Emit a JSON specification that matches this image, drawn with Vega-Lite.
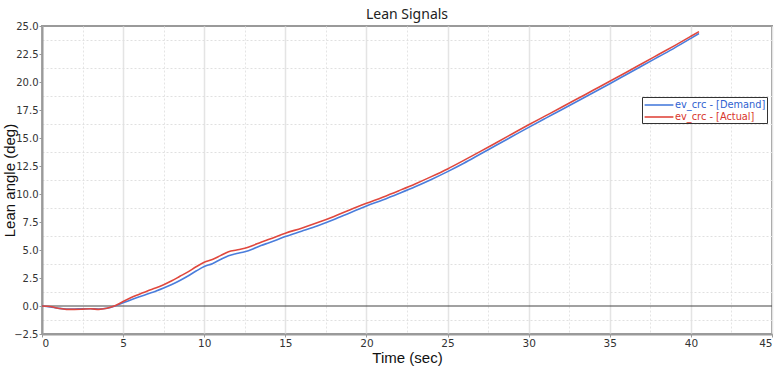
{
  "$schema": "https://vega.github.io/schema/vega-lite/v6.json",
  "autosize": "none",
  "width": 730,
  "height": 308,
  "padding": {"left": 42, "top": 26, "right": 8, "bottom": 33},
  "background": "white",
  "title": {"text": "Lean Signals", "font": "Noto Sans", "fontSize": 14, "fontWeight": "normal", "color": "#222", "offset": -1, "anchor": "middle"},
  "config": {
    "view": {"stroke": "#9a9a9a", "strokeWidth": 2},
    "axis": {"labelFont": "DejaVu Sans", "labelFontSize": 10, "labelColor": "#333", "labelOverlap": false, "titleFont": "Liberation Sans", "titleFontSize": 15, "titleFontWeight": "normal", "titleColor": "#111", "domainColor": "#9a9a9a", "domainWidth": 2, "tickColor": "#9a9a9a", "tickSize": 3, "gridColor": "#e4e4e4", "gridWidth": 1.5}
  },
  "resolve": {"axis": {"y": "independent"}},
  "datasets": {
    "sig": [
      {"t": 0, "v": 0, "s": "ev_crc - [Demand]"},
      {"t": 0.5, "v": -0.08, "s": "ev_crc - [Demand]"},
      {"t": 1, "v": -0.2, "s": "ev_crc - [Demand]"},
      {"t": 1.5, "v": -0.27, "s": "ev_crc - [Demand]"},
      {"t": 2, "v": -0.27, "s": "ev_crc - [Demand]"},
      {"t": 2.5, "v": -0.25, "s": "ev_crc - [Demand]"},
      {"t": 3, "v": -0.25, "s": "ev_crc - [Demand]"},
      {"t": 3.5, "v": -0.27, "s": "ev_crc - [Demand]"},
      {"t": 4, "v": -0.2, "s": "ev_crc - [Demand]"},
      {"t": 4.5, "v": 0.0, "s": "ev_crc - [Demand]"},
      {"t": 5, "v": 0.28, "s": "ev_crc - [Demand]"},
      {"t": 5.5, "v": 0.55, "s": "ev_crc - [Demand]"},
      {"t": 6, "v": 0.82, "s": "ev_crc - [Demand]"},
      {"t": 6.5, "v": 1.08, "s": "ev_crc - [Demand]"},
      {"t": 7, "v": 1.32, "s": "ev_crc - [Demand]"},
      {"t": 7.5, "v": 1.6, "s": "ev_crc - [Demand]"},
      {"t": 8, "v": 1.92, "s": "ev_crc - [Demand]"},
      {"t": 8.5, "v": 2.28, "s": "ev_crc - [Demand]"},
      {"t": 9, "v": 2.68, "s": "ev_crc - [Demand]"},
      {"t": 9.5, "v": 3.12, "s": "ev_crc - [Demand]"},
      {"t": 10, "v": 3.52, "s": "ev_crc - [Demand]"},
      {"t": 10.5, "v": 3.78, "s": "ev_crc - [Demand]"},
      {"t": 11, "v": 4.15, "s": "ev_crc - [Demand]"},
      {"t": 11.5, "v": 4.48, "s": "ev_crc - [Demand]"},
      {"t": 12, "v": 4.68, "s": "ev_crc - [Demand]"},
      {"t": 12.5, "v": 4.85, "s": "ev_crc - [Demand]"},
      {"t": 13, "v": 5.1, "s": "ev_crc - [Demand]"},
      {"t": 13.5, "v": 5.4, "s": "ev_crc - [Demand]"},
      {"t": 14, "v": 5.65, "s": "ev_crc - [Demand]"},
      {"t": 15, "v": 6.2, "s": "ev_crc - [Demand]"},
      {"t": 16, "v": 6.68, "s": "ev_crc - [Demand]"},
      {"t": 17, "v": 7.17, "s": "ev_crc - [Demand]"},
      {"t": 18, "v": 7.72, "s": "ev_crc - [Demand]"},
      {"t": 19, "v": 8.33, "s": "ev_crc - [Demand]"},
      {"t": 20, "v": 8.92, "s": "ev_crc - [Demand]"},
      {"t": 21, "v": 9.47, "s": "ev_crc - [Demand]"},
      {"t": 22, "v": 10.05, "s": "ev_crc - [Demand]"},
      {"t": 23, "v": 10.65, "s": "ev_crc - [Demand]"},
      {"t": 24, "v": 11.3, "s": "ev_crc - [Demand]"},
      {"t": 25, "v": 12.0, "s": "ev_crc - [Demand]"},
      {"t": 26, "v": 12.75, "s": "ev_crc - [Demand]"},
      {"t": 27, "v": 13.55, "s": "ev_crc - [Demand]"},
      {"t": 28, "v": 14.35, "s": "ev_crc - [Demand]"},
      {"t": 29, "v": 15.15, "s": "ev_crc - [Demand]"},
      {"t": 30, "v": 15.95, "s": "ev_crc - [Demand]"},
      {"t": 31, "v": 16.73, "s": "ev_crc - [Demand]"},
      {"t": 32, "v": 17.5, "s": "ev_crc - [Demand]"},
      {"t": 33, "v": 18.28, "s": "ev_crc - [Demand]"},
      {"t": 34, "v": 19.06, "s": "ev_crc - [Demand]"},
      {"t": 35, "v": 19.85, "s": "ev_crc - [Demand]"},
      {"t": 36, "v": 20.65, "s": "ev_crc - [Demand]"},
      {"t": 37, "v": 21.45, "s": "ev_crc - [Demand]"},
      {"t": 38, "v": 22.25, "s": "ev_crc - [Demand]"},
      {"t": 39, "v": 23.05, "s": "ev_crc - [Demand]"},
      {"t": 40, "v": 23.9, "s": "ev_crc - [Demand]"},
      {"t": 40.5, "v": 24.33, "s": "ev_crc - [Demand]"},
      {"t": 0, "v": 0, "s": "ev_crc - [Actual]"},
      {"t": 0.5, "v": -0.05, "s": "ev_crc - [Actual]"},
      {"t": 1, "v": -0.2, "s": "ev_crc - [Actual]"},
      {"t": 1.5, "v": -0.3, "s": "ev_crc - [Actual]"},
      {"t": 2, "v": -0.3, "s": "ev_crc - [Actual]"},
      {"t": 2.5, "v": -0.28, "s": "ev_crc - [Actual]"},
      {"t": 3, "v": -0.25, "s": "ev_crc - [Actual]"},
      {"t": 3.5, "v": -0.3, "s": "ev_crc - [Actual]"},
      {"t": 4, "v": -0.2, "s": "ev_crc - [Actual]"},
      {"t": 4.5, "v": 0.02, "s": "ev_crc - [Actual]"},
      {"t": 5, "v": 0.4, "s": "ev_crc - [Actual]"},
      {"t": 5.5, "v": 0.75, "s": "ev_crc - [Actual]"},
      {"t": 6, "v": 1.05, "s": "ev_crc - [Actual]"},
      {"t": 6.5, "v": 1.35, "s": "ev_crc - [Actual]"},
      {"t": 7, "v": 1.6, "s": "ev_crc - [Actual]"},
      {"t": 7.5, "v": 1.9, "s": "ev_crc - [Actual]"},
      {"t": 8, "v": 2.25, "s": "ev_crc - [Actual]"},
      {"t": 8.5, "v": 2.65, "s": "ev_crc - [Actual]"},
      {"t": 9, "v": 3.05, "s": "ev_crc - [Actual]"},
      {"t": 9.5, "v": 3.5, "s": "ev_crc - [Actual]"},
      {"t": 10, "v": 3.9, "s": "ev_crc - [Actual]"},
      {"t": 10.5, "v": 4.15, "s": "ev_crc - [Actual]"},
      {"t": 11, "v": 4.5, "s": "ev_crc - [Actual]"},
      {"t": 11.5, "v": 4.85, "s": "ev_crc - [Actual]"},
      {"t": 12, "v": 5.0, "s": "ev_crc - [Actual]"},
      {"t": 12.5, "v": 5.15, "s": "ev_crc - [Actual]"},
      {"t": 13, "v": 5.4, "s": "ev_crc - [Actual]"},
      {"t": 13.5, "v": 5.7, "s": "ev_crc - [Actual]"},
      {"t": 14, "v": 5.95, "s": "ev_crc - [Actual]"},
      {"t": 15, "v": 6.5, "s": "ev_crc - [Actual]"},
      {"t": 16, "v": 6.95, "s": "ev_crc - [Actual]"},
      {"t": 17, "v": 7.45, "s": "ev_crc - [Actual]"},
      {"t": 18, "v": 8.0, "s": "ev_crc - [Actual]"},
      {"t": 19, "v": 8.6, "s": "ev_crc - [Actual]"},
      {"t": 20, "v": 9.17, "s": "ev_crc - [Actual]"},
      {"t": 21, "v": 9.72, "s": "ev_crc - [Actual]"},
      {"t": 22, "v": 10.3, "s": "ev_crc - [Actual]"},
      {"t": 23, "v": 10.9, "s": "ev_crc - [Actual]"},
      {"t": 24, "v": 11.55, "s": "ev_crc - [Actual]"},
      {"t": 25, "v": 12.24, "s": "ev_crc - [Actual]"},
      {"t": 26, "v": 13.0, "s": "ev_crc - [Actual]"},
      {"t": 27, "v": 13.78, "s": "ev_crc - [Actual]"},
      {"t": 28, "v": 14.58, "s": "ev_crc - [Actual]"},
      {"t": 29, "v": 15.38, "s": "ev_crc - [Actual]"},
      {"t": 30, "v": 16.18, "s": "ev_crc - [Actual]"},
      {"t": 31, "v": 16.95, "s": "ev_crc - [Actual]"},
      {"t": 32, "v": 17.72, "s": "ev_crc - [Actual]"},
      {"t": 33, "v": 18.5, "s": "ev_crc - [Actual]"},
      {"t": 34, "v": 19.28, "s": "ev_crc - [Actual]"},
      {"t": 35, "v": 20.06, "s": "ev_crc - [Actual]"},
      {"t": 36, "v": 20.85, "s": "ev_crc - [Actual]"},
      {"t": 37, "v": 21.65, "s": "ev_crc - [Actual]"},
      {"t": 38, "v": 22.45, "s": "ev_crc - [Actual]"},
      {"t": 39, "v": 23.25, "s": "ev_crc - [Actual]"},
      {"t": 40, "v": 24.08, "s": "ev_crc - [Actual]"},
      {"t": 40.5, "v": 24.5, "s": "ev_crc - [Actual]"}
    ],
    "zero": [{"y": 0}]
  },
  "layer": [
    {
      "data": {"name": "zero"},
      "mark": {"type": "rule", "color": "#444", "strokeWidth": 1.2},
      "encoding": {"y": {"field": "y", "type": "quantitative", "scale": {"domain": [-2.5, 25], "nice": false},
        "axis": {"orient": "left", "values": [-1.25, 1.25, 3.75, 6.25, 8.75, 11.25, 13.75, 16.25, 18.75, 21.25, 23.75], "labels": false, "ticks": false, "domain": false, "title": null, "grid": true, "gridDash": [2, 2], "gridWidth": 1, "gridColor": "#e0e0e0"}}}
    },
    {
      "data": {"name": "sig"},
      "mark": {"type": "line", "strokeWidth": 1.6, "interpolate": "monotone"},
      "encoding": {
        "x": {
          "field": "t", "type": "quantitative",
          "scale": {"domain": [0, 45], "nice": false},
          "title": "Time (sec)",
          "axis": {
            "values": [0, 2.5, 5, 7.5, 10, 12.5, 15, 17.5, 20, 22.5, 25, 27.5, 30, 32.5, 35, 37.5, 40, 42.5, 45],
            "labelExpr": "datum.value % 5 === 0 ? datum.label : ''",
            "labelOverlap": false,
            "labelFontSize": 10.5,
            "format": "d",
            "labelPadding": 1,
            "titlePadding": 2,
            "gridDash": {"condition": {"test": "datum.value % 5 !== 0", "value": [2, 2]}, "value": []},
            "gridWidth": {"condition": {"test": "datum.value % 5 !== 0", "value": 1}, "value": 1.5},
            "tickOpacity": {"condition": {"test": "datum.value % 5 !== 0", "value": 0}, "value": 1}
          }
        },
        "y": {
          "field": "v", "type": "quantitative",
          "scale": {"domain": [-2.5, 25], "nice": false},
          "title": "Lean angle (deg)",
          "axis": {
            "orient": "left",
            "values": [-2.5, 0, 2.5, 5, 7.5, 10, 12.5, 15, 17.5, 20, 22.5, 25],
            "format": ".1f",
            "labelOverlap": false,
            "labelPadding": 1,
            "titleX": -25,
            "titleY": 154,
            "titleAngle": -90,
            "titleBaseline": "bottom",
            "titleAlign": "center"
          }
        },
        "color": {
          "field": "s", "type": "nominal",
          "scale": {"domain": ["ev_crc - [Demand]", "ev_crc - [Actual]"], "range": ["#4a7ddc", "#e0483e"]},
          "legend": {
            "title": null,
            "orient": "none",
            "legendX": 600,
            "legendY": 71,
            "symbolType": "M-2.4,0H2.4",
            "symbolSize": 144,
            "symbolStrokeWidth": 1.6,
            "labelFont": "DejaVu Sans",
            "labelFontSize": 9.8,
            "labelOffset": 18,
            "rowPadding": 0,
            "padding": 1,
            "strokeColor": "#333",
            "fillColor": "white",
            "cornerRadius": 0,
            "encode": {
              "symbols": {"update": {"x": {"value": 16}}},
              "labels": {"update": {"fill": {"signal": "datum.value === 'ev_crc - [Demand]' ? '#2f5fd0' : '#d8352b'"}}}
            }
          }
        }
      }
    }
  ]
}
